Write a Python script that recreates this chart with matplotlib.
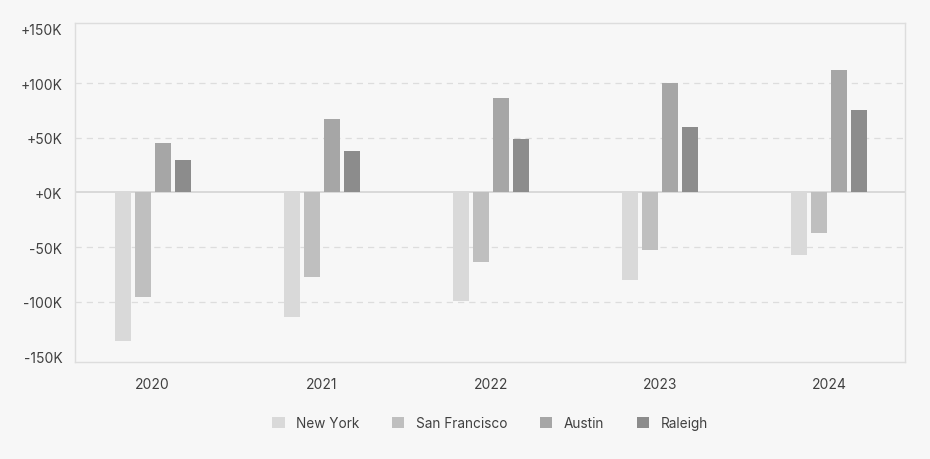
import matplotlib.pyplot as plt
import numpy as np

# data (thousands)
years = ['2020', '2021', '2022', '2023', '2024']
series = ['New York', 'San Francisco', 'Austin', 'Raleigh']
new_york = [-136, -114, -99, -80, -57]
san_francisco = [-96, -77, -64, -53, -37]
austin = [45, 67, 86, 100, 112]
raleigh = [30, 38, 49, 60, 75]
colors = ['#d9d9d9', '#bfbfbf', '#a6a6a6', '#8c8c8c']

plt.rcParams['font.family'] = ['Inter', 'DejaVu Sans']
bg = '#f7f7f7'
text_color = '#404040'

fig = plt.figure(figsize=(9.3, 4.6), dpi=100, facecolor=bg)
ax = fig.add_axes([0.0806, 0.2109, 0.8925, 0.7369], facecolor=bg)

x = np.arange(len(years))
pitch = 0.118
width = 0.095
for i, (name, vals) in enumerate(zip(series, [new_york, san_francisco, austin, raleigh])):
    ax.bar(x + (i - 1.5) * pitch, vals, width=width, color=colors[i], label=name, zorder=3)

ax.set_xlim(-0.46, 4.45)
ax.set_ylim(-155, 155)
ax.set_yticks([-150, -100, -50, 0, 50, 100, 150])
ax.set_yticklabels(['-150K', '-100K', '-50K', '+0K', '+50K', '+100K', '+150K'])
ax.set_xticks(x)
ax.set_xticklabels(years)

# grid and zero line
for v in [-100, -50, 50, 100]:
    ax.axhline(v, color='#dddddd', lw=0.9, ls=(0, (5, 4)), zorder=1)
ax.axhline(0, color='#d4d4d4', lw=1.2, zorder=2)

for s in ax.spines.values():
    s.set_color('#dddddd')
    s.set_linewidth(1)
ax.tick_params(length=0, labelsize=10, colors=text_color)
ax.tick_params(axis='y', pad=9)
ax.tick_params(axis='x', pad=11)

# legend centred under the plot area
fig.legend(loc='center', bbox_to_anchor=(0.527, 0.078), ncol=4, frameon=False,
           handlelength=0.9, handleheight=0.9, handletextpad=0.85, columnspacing=2.4,
           fontsize=9.8, labelcolor=text_color)

fig.savefig('out.png', dpi=100, facecolor=bg)
